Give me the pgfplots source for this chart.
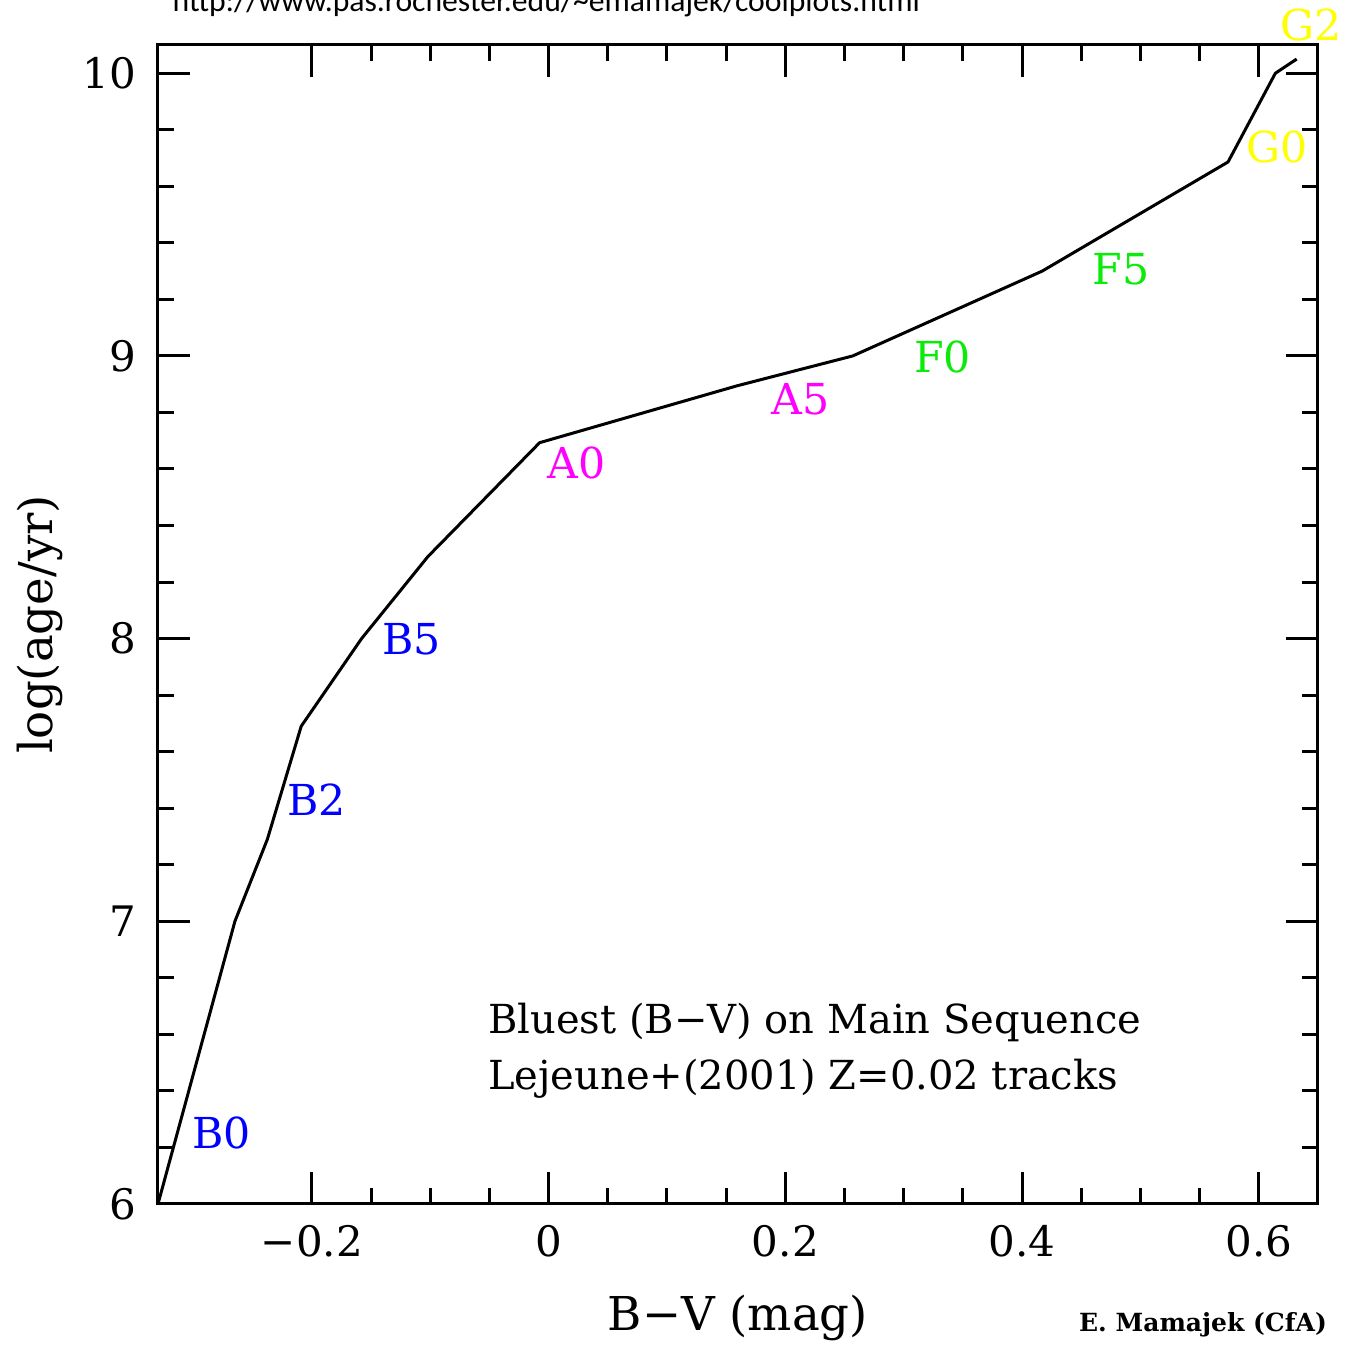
\documentclass[border=0pt]{standalone}
\usepackage{fontspec}
\setmainfont{DejaVu Serif}
\newfontfamily\urlfont{Carlito}
\usepackage{pgfplots}
\pgfplotsset{compat=1.18}
\definecolor{sptB}{RGB}{0,0,255}
\definecolor{sptA}{RGB}{255,0,255}
\definecolor{sptF}{RGB}{10,235,10}
\definecolor{sptG}{RGB}{255,255,0}
\begin{document}
\begin{tikzpicture}
\begin{axis}[
  scale only axis, width=348pt, height=347.7pt,
  xmin=-0.33, xmax=0.65, ymin=6, ymax=10.1,
  xtick={-0.2,0,0.2,0.4,0.6},
  xticklabels={−0.2,0,0.2,0.4,0.6},
  ytick={6,7,8,9,10},
  yticklabels={6,7,8,9,10},
  minor x tick num=3, minor y tick num=4,
  tick align=inside,
  major tick length=9.6pt, minor tick length=4.8pt,
  axis line style={line width=0.9pt},
  tick style={black, line width=0.9pt},
  tick label style={font=\fontsize{12.6}{14}\selectfont},
  xticklabel style={yshift=-3pt},
  yticklabel style={xshift=-3pt},
  label style={font=\fontsize{14}{16}\selectfont},
  xlabel={B−V (mag)},
  ylabel={log(age/yr)},
  xlabel style={at={(rel axis cs:0.5,-0.0984)}, anchor=center},
  ylabel style={at={(rel axis cs:-0.1017,0.5)}, anchor=center},
  clip=false,
]
% bluest main-sequence colour vs age
\addplot[black, line width=0.9pt, line join=round] coordinates {
  (-0.33,6.0) (-0.265,7.0) (-0.2376,7.29) (-0.209,7.69) (-0.158,8.0)
  (-0.102,8.29) (-0.0076,8.693) (0.159,8.894) (0.257,9.0) (0.417,9.30)
  (0.574,9.686) (0.614,10.0) (0.632,10.05)
};
\begin{scope}[every node/.style={font=\fontsize{12.8}{14}\selectfont}]
\node[text=sptB] at (axis cs:-0.2765,6.251) {B0};
\node[text=sptB] at (axis cs:-0.196,7.43) {B2};
\node[text=sptB] at (axis cs:-0.116,7.996) {B5};
\node[text=sptA] at (axis cs:0.0237,8.622) {A0};
\node[text=sptA] at (axis cs:0.213,8.845) {A5};
\node[text=sptF] at (axis cs:0.333,8.997) {F0};
\node[text=sptF] at (axis cs:0.4837,9.307) {F5};
\node[text=sptG] at (axis cs:0.6156,9.738) {G0};
\node[text=sptG] at (axis cs:0.6444,10.17) {G2};
\end{scope}
\node[anchor=west, font=\fontsize{12}{14}\selectfont] at (axis cs:-0.061,6.643) {Bluest (B−V) on Main Sequence};
\node[anchor=west, font=\fontsize{12}{14}\selectfont] at (axis cs:-0.061,6.442) {Lejeune+(2001) Z=0.02 tracks};
\node[font=\fontsize{7.5}{9}\selectfont\bfseries] at (rel axis cs:0.9009,-0.1044) {E. Mamajek (CfA)};
\node[anchor=base west, font=\urlfont\fontsize{9.5}{11}\selectfont, inner sep=0pt] at (rel axis cs:0.0121,1.0293) {http://www.pas.rochester.edu/\textasciitilde emamajek/coolplots.html};
\coordinate (bbSW) at (rel axis cs:-0.1362,-0.1234);
\coordinate (bbNE) at (rel axis cs:1.0233,1.0388);
\end{axis}
\pgfresetboundingbox
\useasboundingbox (bbSW) rectangle (bbNE);
\end{tikzpicture}
\end{document}
